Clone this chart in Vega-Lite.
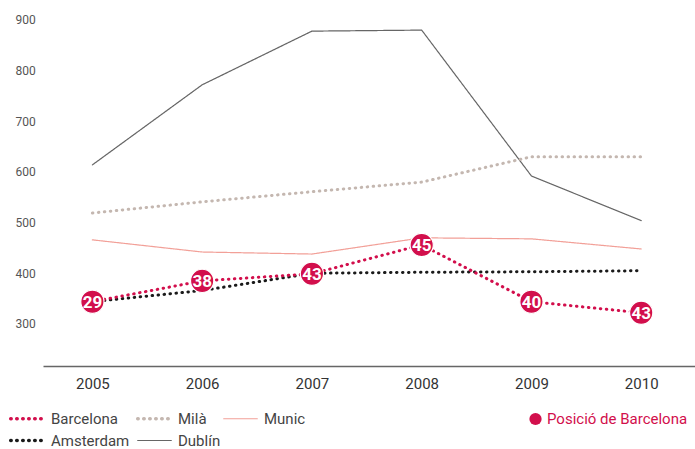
{
  "$schema": "https://vega.github.io/schema/vega-lite/v6.json",
  "width": 652,
  "height": 364,
  "autosize": {"type": "none"},
  "padding": {"left": 43, "top": 2, "right": 0, "bottom": 83},
  "background": "white",
  "config": {
    "view": {"stroke": null},
    "font": "Roboto",
    "axis": {"grid": false, "ticks": false, "title": null}
  },
  "datasets": {
    "lines": [
      {"year": 2005, "serie": "Dublín", "value": 614},
      {"year": 2006, "serie": "Dublín", "value": 772},
      {"year": 2007, "serie": "Dublín", "value": 878},
      {"year": 2008, "serie": "Dublín", "value": 880},
      {"year": 2009, "serie": "Dublín", "value": 592},
      {"year": 2010, "serie": "Dublín", "value": 504},
      {"year": 2005, "serie": "Munic", "value": 466},
      {"year": 2006, "serie": "Munic", "value": 442},
      {"year": 2007, "serie": "Munic", "value": 438},
      {"year": 2008, "serie": "Munic", "value": 470},
      {"year": 2009, "serie": "Munic", "value": 468},
      {"year": 2010, "serie": "Munic", "value": 448},
      {"year": 2005, "serie": "Milà", "value": 519},
      {"year": 2006, "serie": "Milà", "value": 541},
      {"year": 2007, "serie": "Milà", "value": 561},
      {"year": 2008, "serie": "Milà", "value": 580},
      {"year": 2009, "serie": "Milà", "value": 630},
      {"year": 2010, "serie": "Milà", "value": 630},
      {"year": 2005, "serie": "Amsterdam", "value": 344},
      {"year": 2006, "serie": "Amsterdam", "value": 366},
      {"year": 2007, "serie": "Amsterdam", "value": 400},
      {"year": 2008, "serie": "Amsterdam", "value": 402},
      {"year": 2009, "serie": "Amsterdam", "value": 403},
      {"year": 2010, "serie": "Amsterdam", "value": 405},
      {"year": 2005, "serie": "Barcelona", "value": 344},
      {"year": 2006, "serie": "Barcelona", "value": 385},
      {"year": 2007, "serie": "Barcelona", "value": 399},
      {"year": 2008, "serie": "Barcelona", "value": 456},
      {"year": 2009, "serie": "Barcelona", "value": 344},
      {"year": 2010, "serie": "Barcelona", "value": 322}
    ],
    "pos": [
      {"year": 2005, "value": 344, "rank": "29", "legend": "Posició de Barcelona"},
      {"year": 2006, "value": 385, "rank": "38", "legend": "Posició de Barcelona"},
      {"year": 2007, "value": 399, "rank": "43", "legend": "Posició de Barcelona"},
      {"year": 2008, "value": 456, "rank": "45", "legend": "Posició de Barcelona"},
      {"year": 2009, "value": 344, "rank": "40", "legend": "Posició de Barcelona"},
      {"year": 2010, "value": 322, "rank": "43", "legend": "Posició de Barcelona"}
    ]
  },
  "encoding": {
    "x": {
      "field": "year", "type": "quantitative",
      "scale": {"domain": [2004.55, 2010.49], "nice": false, "zero": false},
      "axis": {
        "values": [2005, 2006, 2007, 2008, 2009, 2010], "format": "d",
        "labelFontSize": 15, "labelColor": "#333333", "labelPadding": 10,
        "domainColor": "#666666", "domainWidth": 1.5
      }
    },
    "y": {
      "field": "value", "type": "quantitative",
      "scale": {"domain": [217, 935.5], "nice": false, "zero": false},
      "axis": {
        "values": [300, 400, 500, 600, 700, 800, 900],
        "domain": false, "labelAlign": "left", "labelPadding": 28,
        "labelFontSize": 12, "labelColor": "#555555"
      }
    }
  },
  "layer": [
    {
      "data": {"name": "lines"},
      "mark": {"type": "line", "strokeCap": "round"},
      "encoding": {
        "color": {
          "field": "serie", "type": "nominal",
          "scale": {
            "domain": ["Barcelona", "Milà", "Munic", "Amsterdam", "Dublín"],
            "range": ["#d20f4c", "#c4b7b0", "#f2a098", "#1a1a1a", "#666666"]
          },
          "legend": {
            "orient": "none", "legendX": -23, "legendY": 409,
            "title": null, "columns": 3, "direction": "horizontal",
            "symbolType": "M-2.8,0H2.8", "symbolSize": 144,
            "labelFontSize": 15, "labelColor": "#444444",
            "labelOffset": 16, "columnPadding": 0, "rowPadding": 6,
            "encode": {"symbols": {"update": {
              "strokeCap": {"value": "round"},
              "strokeWidth": {"signal": "datum.value === 'Munic' || datum.value === 'Dublín' ? 1.2 : 3.5"},
              "strokeDash": {"signal": "datum.value === 'Munic' || datum.value === 'Dublín' ? [1, 0] : [0.5, 8]"}
            }}}
          }
        },
        "strokeDash": {
          "field": "serie", "type": "nominal",
          "scale": {
            "domain": ["Barcelona", "Milà", "Munic", "Amsterdam", "Dublín"],
            "range": [[0.5, 5.5], [0.5, 5.5], [1, 0], [0.5, 5.5], [1, 0]]
          }
        },
        "strokeWidth": {
          "condition": {"test": "datum.serie === 'Munic' || datum.serie === 'Dublín'", "value": 1.2},
          "value": 3
        },
        "order": {"field": "year"}
      }
    },
    {
      "data": {"name": "pos"},
      "mark": {"type": "circle", "opacity": 1, "size": 540, "stroke": "white", "strokeWidth": 1.2},
      "encoding": {
        "fill": {
          "field": "legend", "type": "nominal",
          "scale": {"range": ["#d20f4c"]},
          "legend": {
            "orient": "none", "legendX": 485, "legendY": 409.5,
            "title": null, "symbolSize": 150, "symbolType": "circle",
            "labelFontSize": 15, "labelColor": "#d20f4c", "labelOffset": 4,
            "symbolStrokeWidth": 0, "symbolOpacity": 1
          }
        }
      }
    },
    {
      "data": {"name": "pos"},
      "mark": {"type": "text", "color": "white", "fontSize": 17, "fontWeight": "bold", "baseline": "middle", "align": "center", "dy": 1},
      "encoding": {"text": {"field": "rank"}}
    }
  ]
}
